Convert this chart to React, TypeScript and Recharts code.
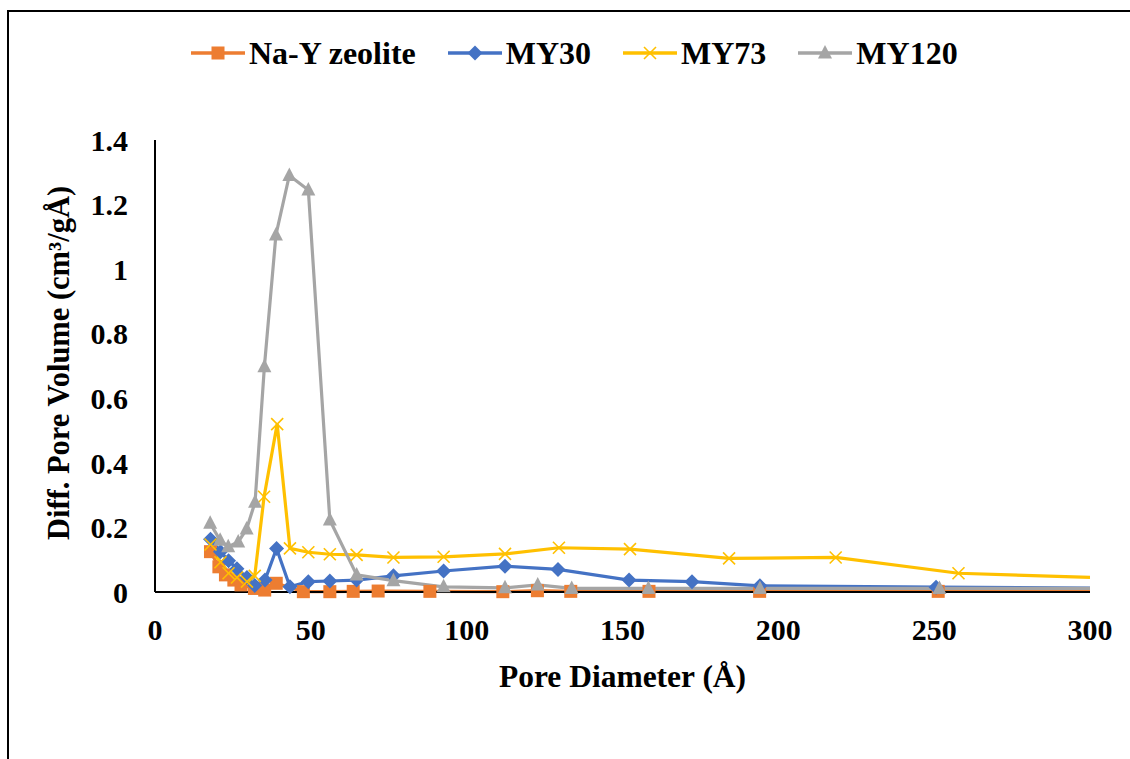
import React from "react";
import { LineChart, Line, XAxis, YAxis } from "recharts";

const FONT = "Times New Roman";

const seriesNames = ["Na-Y zeolite", "MY30", "MY73", "MY120"];
const seriesColors = ["#ED7D31", "#4472C4", "#FFC000", "#A5A5A5"];

const xTicks = [0, 50, 100, 150, 200, 250, 300];
const yTicks = [0, 0.2, 0.4, 0.6, 0.8, 1, 1.2, 1.4];

const naYX = [17.8, 20.5, 22.6, 25.3, 27.6, 31.9, 35.2, 38.9, 47.6, 56.1, 63.6, 71.6, 88.2, 111.6, 122.7, 133.4, 158.5, 194.0, 251.3, 300];
const naYV = [0.125, 0.078, 0.053, 0.037, 0.022, 0.011, 0.006, 0.027, 0.001, 0.001, 0.002, 0.003, 0.002, 0.001, 0.004, 0.002, 0.002, 0.002, 0.002, 0.002];

const my30X = [17.8, 21.0, 23.6, 26.3, 29.5, 32.0, 35.3, 39.0, 43.3, 49.2, 56.1, 64.7, 76.5, 92.6, 112.3, 129.3, 152.1, 172.3, 194.1, 250.6, 300];
const my30V = [0.163, 0.125, 0.097, 0.072, 0.045, 0.02, 0.037, 0.135, 0.016, 0.032, 0.034, 0.037, 0.05, 0.065, 0.08, 0.07, 0.037, 0.032, 0.019, 0.015, 0.012];

const my73X = [17.8, 21.0, 23.6, 26.3, 29.5, 32.0, 35.0, 39.2, 43.3, 49.2, 56.1, 64.7, 76.5, 92.6, 112.3, 129.6, 152.4, 184.2, 218.4, 257.8, 300];
const my73V = [0.147, 0.092, 0.058, 0.045, 0.032, 0.05, 0.295, 0.52, 0.135, 0.123, 0.117, 0.115, 0.107, 0.109, 0.118, 0.137, 0.133, 0.104, 0.107, 0.058, 0.045];

const my120X = [17.7, 20.9, 23.5, 26.7, 29.4, 32.1, 35.1, 38.8, 43.1, 49.2, 56.1, 64.7, 76.5, 92.6, 112.3, 122.8, 133.7, 158.3, 194.1, 251.7, 300];
const my120V = [0.213, 0.16, 0.14, 0.155, 0.195, 0.278, 0.698, 1.106, 1.29, 1.245, 0.223, 0.053, 0.035, 0.016, 0.013, 0.022, 0.011, 0.011, 0.011, 0.011, 0.011];

const toData = (xs: number[], vs: number[]) => xs.map((x, i) => ({ x, y: vs[i] }));

const seriesData = [toData(naYX, naYV), toData(my30X, my30V), toData(my73X, my73V), toData(my120X, my120V)];

type Shape = "square" | "diamond" | "x" | "triangle";
const shapes: Shape[] = ["square", "diamond", "x", "triangle"];

function Marker({ shape, cx, cy, color }: { shape: Shape; cx: number; cy: number; color: string }) {
  if (shape === "square") {
    return <rect x={cx - 6.5} y={cy - 6.5} width={13} height={13} fill={color} />;
  }
  if (shape === "diamond") {
    return <polygon points={`${cx},${cy - 7.5} ${cx + 7.5},${cy} ${cx},${cy + 7.5} ${cx - 7.5},${cy}`} fill={color} />;
  }
  if (shape === "triangle") {
    return <polygon points={`${cx},${cy - 8} ${cx + 7},${cy + 5.5} ${cx - 7},${cy + 5.5}`} fill={color} />;
  }
  return (
    <g stroke={color} strokeWidth={1.6}>
      <line x1={cx - 6} y1={cy - 6} x2={cx + 6} y2={cy + 6} />
      <line x1={cx - 6} y1={cy + 6} x2={cx + 6} y2={cy - 6} />
    </g>
  );
}

const makeDot = (shape: Shape, color: string) => (props: any) => {
  const { cx, cy, index, payload } = props;
  if (payload && payload.x >= 300) return <g key={`d-${index}`} />;
  return (
    <g key={`d-${index}`}>
      <Marker shape={shape} cx={cx} cy={cy} color={color} />
    </g>
  );
};

const YLabel = (props: any) => {
  const vb = props.viewBox || { x: 55, y: 140, width: 100, height: 452 };
  const cx = vb.x + 4;
  const cy = vb.y + vb.height / 2 - 3;
  return (
    <text
      x={cx}
      y={cy}
      transform={`rotate(-90 ${cx} ${cy})`}
      textAnchor="middle"
      dominantBaseline="central"
      fontFamily={FONT}
      fontWeight="bold"
      fontSize={30.5}
      fill="#000"
    >
      Diff. Pore Volume (cm³/gÅ)
    </text>
  );
};

const XLabel = (props: any) => {
  const vb = props.viewBox || { x: 155, y: 592, width: 935, height: 100 };
  const cx = vb.x + vb.width / 2;
  const cy = vb.y + 84;
  return (
    <text x={cx} y={cy} textAnchor="middle" dominantBaseline="central" fontFamily={FONT} fontWeight="bold" fontSize={31.5} fill="#000">
      Pore Diameter (Å)
    </text>
  );
};

function LegendBox() {
  return (
    <div
      style={{
        position: "absolute",
        left: 191,
        top: 33,
        height: 40,
        display: "flex",
        alignItems: "center",
        fontFamily: FONT,
        fontWeight: "bold",
        fontSize: 32,
        color: "#000",
        whiteSpace: "nowrap",
      }}
    >
      {seriesNames.map((name, i) => (
        <div key={name} style={{ display: "flex", alignItems: "center", marginRight: i < seriesNames.length - 1 ? 32 : 0 }}>
          <svg width={54} height={20} style={{ display: "block" }}>
            <line x1={0} y1={10} x2={54} y2={10} stroke={seriesColors[i]} strokeWidth={3.5} />
            <Marker shape={shapes[i]} cx={27} cy={10} color={seriesColors[i]} />
          </svg>
          <span style={{ marginLeft: 4, lineHeight: "40px", fontFamily: FONT }}>{name}</span>
        </div>
      ))}
    </div>
  );
}

const tickStyle = { fill: "#000", fontFamily: FONT, fontWeight: "bold", fontSize: 30 };

export default function App() {
  return (
    <div
      style={{
        position: "fixed",
        left: 0,
        top: 0,
        width: 1130,
        height: 759,
        overflow: "hidden",
        background: "#fff",
        fontFamily: FONT,
      }}
    >
      <div
        style={{
          position: "absolute",
          left: 7,
          top: 10,
          width: 1200,
          height: 800,
          borderLeft: "2px solid #000",
          borderTop: "2px solid #000",
          boxSizing: "border-box",
        }}
      />
      <div style={{ position: "absolute", left: 0, top: 0 }}>
        <LineChart width={1130} height={759} margin={{ top: 140, right: 40, bottom: 67, left: 55 }}>
          <XAxis
            type="number"
            dataKey="x"
            domain={[0, 300]}
            ticks={xTicks}
            interval={0}
            height={100}
            tickLine={false}
            tickSize={0}
            tickMargin={27}
            axisLine={{ stroke: "#000", strokeWidth: 2 }}
            tick={tickStyle}
            label={<XLabel />}
          />
          <YAxis
            type="number"
            domain={[0, 1.4]}
            ticks={yTicks}
            interval={0}
            width={100}
            tickLine={false}
            tickSize={0}
            tickMargin={27}
            axisLine={{ stroke: "#000", strokeWidth: 2 }}
            tick={tickStyle}
            label={<YLabel />}
          />
          {seriesData.map((d, i) => (
            <Line
              key={seriesNames[i]}
              data={d}
              dataKey="y"
              name={seriesNames[i]}
              type="linear"
              stroke={seriesColors[i]}
              strokeWidth={3.2}
              dot={makeDot(shapes[i], seriesColors[i])}
              activeDot={false}
              isAnimationActive={false}
            />
          ))}
        </LineChart>
      </div>
      <LegendBox />
    </div>
  );
}
